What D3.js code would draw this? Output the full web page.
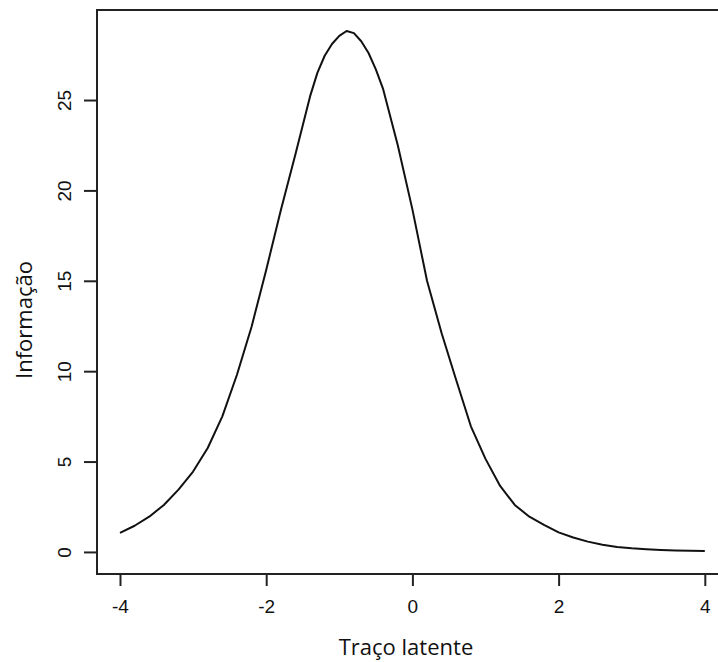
<!DOCTYPE html>
<html>
<head>
<meta charset="utf-8">
<script src="https://cdn.jsdelivr.net/npm/d3@7"></script>
<style>
  html, body { margin: 0; padding: 0; background: #fff; }
  svg { display: block; }
</style>
</head>
<body>
<svg id="chart" width="718" height="662"></svg>
<script>
// Test information function over the latent trait
const theta = [
  -4.0, -3.8, -3.6, -3.4, -3.2, -3.0, -2.8, -2.6, -2.4, -2.2,
  -2.0, -1.8, -1.6, -1.4, -1.3, -1.2, -1.1, -1.0, -0.9, -0.8,
  -0.7, -0.6, -0.5, -0.4, -0.2,  0.0,  0.2,  0.4,  0.6,  0.8,
   1.0,  1.2,  1.4,  1.6,  1.8,  2.0,  2.2,  2.4,  2.6,  2.8,
   3.0,  3.2,  3.4,  3.6,  3.8,  4.0
];
const information = [
   1.05,  1.45,  1.95,  2.6,  3.45,  4.45,  5.75,  7.5,  9.8, 12.46,
  15.6, 18.9, 22.0, 25.2, 26.5, 27.45, 28.1, 28.55, 28.82, 28.7,
  28.25, 27.6, 26.7, 25.6, 22.5, 18.95, 15.0, 12.1,  9.5,  6.95,
   5.15,  3.65,  2.6,  1.95,  1.5,  1.08,  0.8,  0.57,  0.4,  0.27,
   0.2,  0.15,  0.11,  0.08,  0.06,  0.05
];
const xTicks = [-4, -2, 0, 2, 4];
const yTicks = [0, 5, 10, 15, 20, 25];
const xTitle = "Traço latente";
const yTitle = "Informação";

const svg = d3.select("#chart");

// Plot region (R-style 4% padding on each axis)
const plot = { left: 97, top: 10, bottom: 574 };
const x = d3.scaleLinear().domain([-4.32, 4.32]).range([96.6, 728.2]);
const y = d3.scaleLinear().domain([-1.22, 29.98]).range([574, 10]);

const axisColor = "#222";
const labelFont = "'Liberation Sans', Arial, sans-serif";
const plainNumber = d => String(d);   // ASCII hyphen for negatives

// Frame around the plot region
svg.append("rect")
  .attr("x", plot.left)
  .attr("y", plot.top)
  .attr("width", x.range()[1] - plot.left)
  .attr("height", plot.bottom - plot.top)
  .attr("fill", "none")
  .attr("stroke", axisColor)
  .attr("stroke-width", 2);

// Bottom axis
const xAxis = svg.append("g")
  .attr("transform", `translate(0,${plot.bottom})`)
  .call(d3.axisBottom(x).tickValues(xTicks).tickSize(12).tickSizeOuter(0).tickPadding(14)
        .tickFormat(plainNumber));
xAxis.select(".domain").remove();
xAxis.append("line")
  .attr("x1", x(xTicks[0])).attr("x2", x(xTicks[xTicks.length - 1]))
  .attr("stroke", axisColor).attr("stroke-width", 2);
xAxis.selectAll(".tick line").attr("stroke", axisColor).attr("stroke-width", 2);
xAxis.selectAll(".tick text")
  .attr("fill", "#111")
  .style("font-family", labelFont)
  .style("font-size", "19px");

// Left axis with rotated tick labels
const yAxis = svg.append("g")
  .attr("transform", `translate(${plot.left},0)`)
  .call(d3.axisLeft(y).tickValues(yTicks).tickSize(13).tickSizeOuter(0).tickFormat(plainNumber));
yAxis.select(".domain").remove();
yAxis.append("line")
  .attr("y1", y(yTicks[0])).attr("y2", y(yTicks[yTicks.length - 1]))
  .attr("stroke", axisColor).attr("stroke-width", 2);
yAxis.selectAll(".tick line").attr("stroke", axisColor).attr("stroke-width", 2);
yAxis.selectAll(".tick text")
  .attr("fill", "#111")
  .attr("x", null).attr("dy", null)
  .attr("text-anchor", "middle")
  .attr("transform", "translate(-26,0) rotate(-90)")
  .style("font-family", labelFont)
  .style("font-size", "19px");

// Information curve
const line = d3.line()
  .x((d, i) => x(theta[i]))
  .y(d => y(d));
svg.append("path")
  .datum(information)
  .attr("d", line)
  .attr("fill", "none")
  .attr("stroke", "#111")
  .attr("stroke-width", 2)
  .attr("stroke-linejoin", "round");

// Axis titles
svg.append("text")
  .attr("x", 406)
  .attr("y", 655)
  .attr("text-anchor", "middle")
  .style("font-family", "'Open Sans', sans-serif")
  .style("font-size", "22px")
  .attr("fill", "#111")
  .text(xTitle);

svg.append("text")
  .attr("transform", "translate(32,320) rotate(-90)")
  .attr("text-anchor", "middle")
  .style("font-family", "'Open Sans', sans-serif")
  .style("font-size", "22px")
  .attr("fill", "#111")
  .text(yTitle);
</script>
</body>
</html>
